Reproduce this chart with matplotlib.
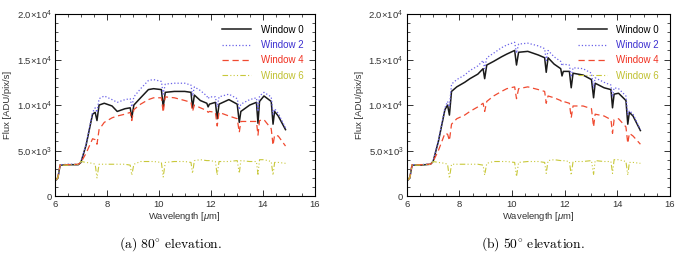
import numpy as np
import matplotlib
matplotlib.use("Agg")
import matplotlib.pyplot as plt
from matplotlib.ticker import MultipleLocator, FixedLocator, FixedFormatter

# ------------------------------------------------------------
#  Datos
# ------------------------------------------------------------
wl = [6.06, 6.12, 6.2, 6.5, 6.9, 7.0, 7.2, 7.45, 7.55, 7.62,
      7.7, 7.9, 8.2, 8.4, 8.7, 8.9, 8.96, 9.04, 9.3, 9.6,
      9.8, 10.1, 10.17, 10.25, 10.6, 11.0, 11.24, 11.3, 11.37, 11.6,
      11.85, 11.9, 11.95, 12.18, 12.25, 12.32, 12.7, 13.02, 13.1, 13.16,
      13.5, 13.76, 13.82, 13.88, 14.05, 14.33, 14.4, 14.46, 14.6, 14.88]

# (a) 80 deg
win0_a = [1800, 2100, 3400, 3450, 3450, 3700, 5600, 9000, 9200, 8300,
          10000, 10200, 9900, 9300, 9600, 9700, 8600, 10000, 10800, 11700,
          11800, 11700, 9800, 11400, 11500, 11500, 11400, 9700, 11100, 10500,
          10200, 9800, 10100, 10300, 8500, 10100, 10600, 10100, 8100, 9300,
          10000, 10300, 8000, 10400, 11000, 10400, 7900, 9300, 8800, 7300]
win2_a = [1800, 2100, 3450, 3500, 3500, 3750, 5700, 9200, 9700, 9200,
          10700, 11000, 10600, 10300, 10600, 10700, 9800, 10900, 11800, 12700,
          12800, 12600, 11200, 12300, 12400, 12400, 12200, 11000, 12000, 11600,
          11000, 10700, 10900, 10900, 9800, 10900, 11200, 10700, 9500, 10100,
          10600, 10800, 9300, 11000, 11400, 10900, 9000, 9600, 9100, 7500]
win4_a = [1800, 2100, 3450, 3450, 3500, 3700, 4700, 6300, 6200, 5700,
          7300, 8100, 8600, 8800, 9000, 9200, 8300, 9500, 10100, 10600,
          10800, 10800, 9200, 10900, 10800, 10500, 10300, 9300, 10000, 9700,
          9400, 9200, 9300, 9200, 7700, 9200, 8800, 8500, 7000, 8200,
          8200, 8200, 6700, 8300, 8400, 7400, 5600, 6700, 6600, 5500]
win6_a = [1800, 2100, 3400, 3400, 3500, 3800, 3700, 3600, 3500, 2000,
          3500, 3500, 3500, 3500, 3500, 3400, 2300, 3500, 3800, 3800,
          3800, 3700, 2100, 3700, 3800, 3800, 3700, 2500, 3900, 4000,
          3900, 3900, 3900, 3800, 2300, 3800, 3800, 3900, 2500, 3900,
          3800, 3800, 2400, 4000, 4000, 3800, 2300, 3700, 3700, 3600]

# (b) 50 deg
win0_b = [1800, 2100, 3400, 3400, 3500, 3800, 6000, 9500, 10000, 8900,
          11500, 12000, 12500, 12900, 13400, 14000, 12900, 14400, 14800, 15300,
          15600, 16000, 14400, 15800, 15900, 15500, 15200, 13600, 15200, 14500,
          14000, 13200, 13700, 13700, 11900, 13500, 13300, 12800, 10800, 12400,
          11900, 11700, 9700, 11200, 11300, 10500, 7900, 9200, 8800, 7200]
win2_b = [1800, 2100, 3450, 3450, 3550, 3850, 6100, 9700, 10400, 9800,
          12300, 12800, 13300, 13800, 14300, 14900, 14000, 15200, 15700, 16300,
          16600, 16900, 15700, 16700, 16800, 16500, 16200, 14900, 16000, 15300,
          14800, 14300, 14500, 14400, 13100, 14100, 14000, 13500, 11900, 13000,
          12500, 12200, 10900, 11900, 11800, 11000, 8900, 9400, 9000, 7300]
win4_b = [1800, 2100, 3450, 3450, 3500, 3800, 5000, 6900, 6800, 6100,
          7900, 8500, 8900, 9300, 9800, 10200, 9300, 10400, 11000, 11500,
          11800, 12000, 10700, 11800, 12000, 11700, 11500, 10200, 11000, 10800,
          10500, 10300, 10400, 10200, 8600, 9900, 9900, 9600, 7600, 9000,
          8800, 8400, 6900, 8400, 8500, 7600, 5800, 6900, 6600, 5700]
win6_b = [1800, 2100, 3400, 3400, 3500, 3800, 3700, 3600, 3500, 1950,
          3500, 3500, 3500, 3500, 3500, 3400, 2300, 3600, 3800, 3800,
          3800, 3700, 2150, 3700, 3800, 3800, 3700, 2500, 3900, 4000,
          3900, 3900, 3900, 3800, 2300, 3800, 3800, 3900, 2400, 3900,
          3800, 3800, 2500, 4000, 4000, 3800, 2300, 3700, 3700, 3600]

labels = ["Window 0", "Window 2", "Window 4", "Window 6"]
captions = [r"$\mathrm{(a)\ 80^{\circ}\ elevation.}$",
            r"$\mathrm{(b)\ 50^{\circ}\ elevation.}$"]

# ------------------------------------------------------------
#  Estilo
# ------------------------------------------------------------
plt.rcParams.update({
    "font.family": "Liberation Sans",
    "mathtext.fontset": "custom",
    "mathtext.rm": "Liberation Sans",
    "mathtext.it": "Liberation Sans:italic",
    "font.size": 6.5,
    "axes.linewidth": 0.8,
    "xtick.direction": "in",
    "ytick.direction": "in",
    "xtick.top": True,
    "ytick.right": True,
})

colores = ["#1a1a1a", "#6a62e8", "#f04a30", "#c8c83a"]
colores_txt = ["#000000", "#3c2fd0", "#f03020", "#c0c030"]
estilos = ["-", ":", (0, (5, 3)), (0, (5, 2, 1, 2, 1, 2, 1, 2))]
anchos = [1.1, 0.9, 0.9, 0.8]

fig = plt.figure(figsize=(6.78, 2.65), dpi=100)
ax_a = fig.add_axes([0.081, 0.260, 0.383, 0.687])
ax_b = fig.add_axes([0.600, 0.260, 0.388, 0.687])

paneles = [
    (ax_a, [win0_a, win2_a, win4_a, win6_a]),
    (ax_b, [win0_b, win2_b, win4_b, win6_b]),
]

for ax, series in paneles:
    for k, y in enumerate(series):
        ax.plot(wl, y, color=colores[k], linestyle=estilos[k],
                linewidth=anchos[k], label=labels[k])

    ax.set_xlim(6, 16)
    ax.set_ylim(0, 20000)
    ax.xaxis.set_major_locator(MultipleLocator(2))
    ax.xaxis.set_minor_locator(MultipleLocator(0.5))
    ax.yaxis.set_major_locator(FixedLocator([0, 5000, 10000, 15000, 20000]))
    ax.yaxis.set_major_formatter(FixedFormatter(
        ["0", r"5.0$\times$10$^3$", r"1.0$\times$10$^4$",
         r"1.5$\times$10$^4$", r"2.0$\times$10$^4$"]))
    ax.yaxis.set_minor_locator(MultipleLocator(1000))
    ax.tick_params(which="major", length=4, width=0.7, colors="#333333",
                   labelsize=6.8, pad=2.5)
    ax.tick_params(which="minor", length=2, width=0.6, colors="#333333")
    ax.set_xlabel(r"Wavelength [$\mu$m]", fontsize=6.8, color="#333333",
                  labelpad=1)
    ax.set_ylabel("Flux [ADU/pix/s]", fontsize=6.8, color="#333333",
                  labelpad=3)

    ax.legend(loc="upper right", frameon=False, fontsize=7,
              handlelength=3.0, handletextpad=1.0, labelspacing=0.55,
              borderaxespad=0.7, labelcolor=colores_txt)

for xc, cap in zip([0.251, 0.786], captions):
    fig.text(xc, 0.08, cap, fontsize=9.8, ha="center", va="center",
             math_fontfamily="cm")

fig.savefig("out.png", dpi=100)
